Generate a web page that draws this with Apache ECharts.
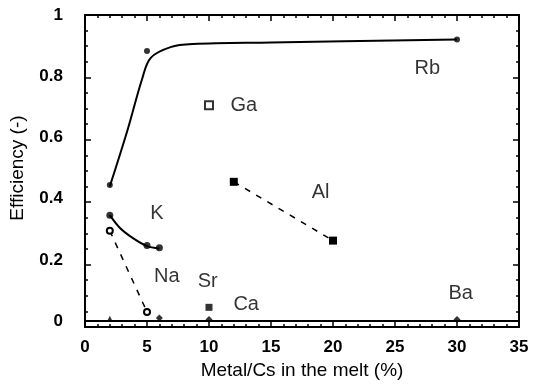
<!DOCTYPE html>
<html>
<head>
<meta charset="utf-8">
<script src="https://cdn.jsdelivr.net/npm/echarts@6/dist/echarts.min.js"></script>
</head>
<body style="margin:0">
<div id="chart" style="width:535px;height:385px"></div>
<script>
const rbCurve = [[2, 0.44], [3.4, 0.62], [4.6, 0.79], [5.3, 0.86], [6.9, 0.895], [8.7, 0.905], [15, 0.91], [30, 0.92]]
const rbPoints = [[2, 0.445], [5, 0.882], [30, 0.92]]
// K
const kCurve = [[2, 0.346], [2.8, 0.305], [3.9, 0.27], [5, 0.245], [6, 0.237]]
const kPoints = [[2, 0.346], [5, 0.247], [6, 0.24]]
// Na
const naLine = [[2, 0.295], [5, 0.03]]
// Al
const alPoints = [[12, 0.455], [20, 0.263]]
// Ga, Sr
const gaPoints = [[10, 0.705]]
const srPoints = [[10, 0.045]]
// points lying on the axis (Ca, Ba and others)
const lowTri = [[2, 0.008]]
const lowDiamond = [[6, 0.01], [10, 0.005], [30, 0.005]]
// element labels
const labelNames = ['Rb', 'Ga', 'K', 'Al', 'Na', 'Sr', 'Ca', 'Ba']
const labelPos = [[27.6, 0.825], [12.8, 0.705], [5.8, 0.35], [19, 0.42], [6.6, 0.145], [9.9, 0.13], [13, 0.055], [30.3, 0.09]]

const xTicks = { min: 0, max: 35, interval: 5 }
const yTicks = { min: 0, max: 1, interval: 0.2 }

const chart = echarts.init(document.getElementById('chart'))

const gridBox = { left: 85, right: 16, top: 15, bottom: 58 }

// axes with labels and titles, on the grid that holds the series
const makeAxis = (ticks, extra) => Object.assign({
  type: 'value', min: ticks.min, max: ticks.max, interval: ticks.interval, gridIndex: 0,
  axisLine: { show: true, onZero: false, lineStyle: { color: '#000', width: 2 } },
  axisTick: { show: false },
  splitLine: { show: false }
}, extra)

// frame axes carrying only the inward ticks, on an empty overlaid grid
const makeTickAxis = (ticks, minorSplit, position) => ({
  type: 'value', min: ticks.min, max: ticks.max, interval: ticks.interval, gridIndex: 1, position: position,
  axisLine: { show: true, onZero: false, lineStyle: { color: '#000', width: 2 } },
  axisTick: { show: true, inside: true, length: 6, lineStyle: { color: '#000', width: 1.5 } },
  minorTick: { show: true, splitNumber: minorSplit, length: 3, lineStyle: { color: '#000', width: 1.5 } },
  axisLabel: { show: false },
  splitLine: { show: false }
})

chart.setOption({
  animation: false,
  grid: [Object.assign({}, gridBox), Object.assign({}, gridBox)],
  xAxis: [
    makeAxis(xTicks, {
      position: 'bottom',
      name: 'Metal/Cs in the melt (%)', nameLocation: 'middle', nameGap: 38,
      nameTextStyle: { color: '#000', fontSize: 19 },
      axisLabel: { margin: 18, color: '#000', fontSize: 17, fontWeight: 'bold' }
    }),
    makeTickAxis(xTicks, 5, 'bottom'),
    makeTickAxis(xTicks, 5, 'top')
  ],
  yAxis: [
    makeAxis(yTicks, {
      position: 'left',
      name: 'Efficiency (-)', nameLocation: 'middle', nameGap: 58,
      nameTextStyle: { color: '#000', fontSize: 19 },
      axisLabel: { margin: 22, color: '#000', fontSize: 17, fontWeight: 'bold' }
    }),
    makeTickAxis(yTicks, 4, 'left'),
    makeTickAxis(yTicks, 4, 'right')
  ],
  series: [
    { type: 'line', data: rbCurve, smooth: 0.35, showSymbol: false, lineStyle: { color: '#000', width: 2 } },
    { type: 'scatter', data: rbPoints, symbol: 'circle', symbolSize: 6, itemStyle: { color: '#000' } },
    { type: 'line', data: kCurve, smooth: 0.3, showSymbol: false, lineStyle: { color: '#000', width: 2 } },
    { type: 'scatter', data: kPoints, symbol: 'circle', symbolSize: 7, itemStyle: { color: '#000' } },
    { type: 'line', data: naLine, symbol: 'emptyCircle', symbolSize: 6, showSymbol: true,
      itemStyle: { color: '#000', borderWidth: 1.5 }, lineStyle: { color: '#000', width: 1.5, type: [6, 7] } },
    { type: 'line', data: alPoints, symbol: 'rect', symbolSize: 8, showSymbol: true,
      itemStyle: { color: '#000' }, lineStyle: { color: '#000', width: 1.5, type: [6, 7] } },
    { type: 'scatter', data: gaPoints, symbol: 'emptyRect', symbolSize: 8, itemStyle: { color: '#000', borderWidth: 1.5 } },
    { type: 'scatter', data: srPoints, symbol: 'rect', symbolSize: 7, itemStyle: { color: '#000' } },
    { type: 'scatter', data: lowTri, symbol: 'triangle', symbolSize: 6, itemStyle: { color: '#000' } },
    { type: 'scatter', data: lowDiamond, symbol: 'diamond', symbolSize: 7, itemStyle: { color: '#000' } },
    {
      type: 'scatter', symbolSize: 0, silent: true,
      data: labelNames.map((n, i) => ({ name: n, value: labelPos[i] })),
      label: { show: true, position: 'inside', formatter: '{b}', color: '#000', fontSize: 20 }
    }
  ]
})
</script>
</body>
</html>
